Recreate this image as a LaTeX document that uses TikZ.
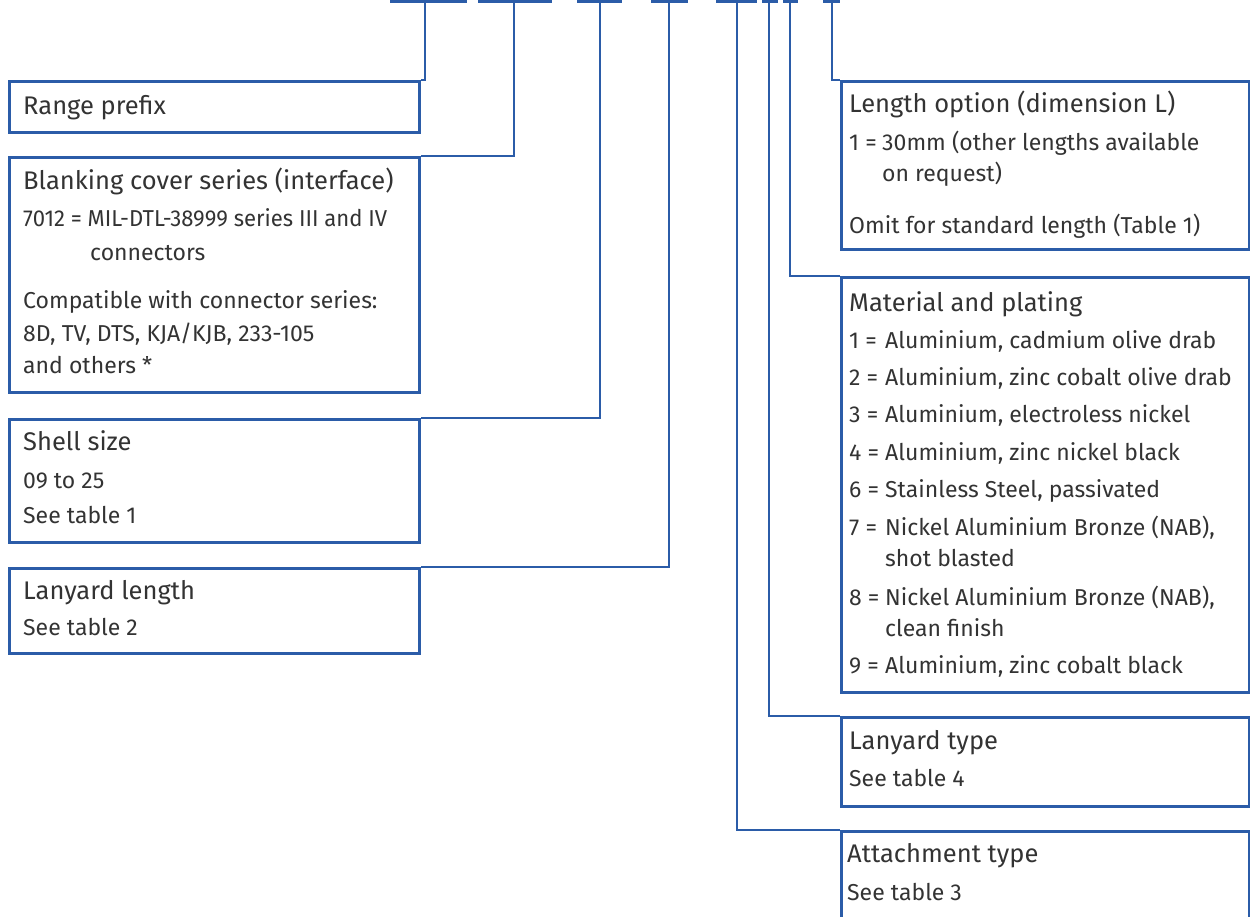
\documentclass[tikz,border=0pt]{standalone}
\usepackage{fontspec}
\setmainfont{Fira Sans}
\definecolor{lineblue}{HTML}{2B5CA8}
\definecolor{txt}{HTML}{333333}
\newcommand\hnum[2]{\makebox[#1][l]{#2 =}}
\tikzset{
  box/.style={draw=lineblue, line width=2.6pt, inner sep=0pt, anchor=north west},
  conn/.style={draw=lineblue, line width=2.4pt},
  ttl/.style={anchor=base west, inner sep=0pt, text=txt, font=\fontsize{25.5}{28}\selectfont},
  bdy/.style={anchor=base west, inner sep=0pt, text=txt, font=\fontsize{23}{26}\selectfont},
}
\begin{document}
\begin{tikzpicture}[x=1pt,y=-1pt]
\useasboundingbox (0,0) rectangle (1250,916);
\clip (0,0) rectangle (1250,916);
% top bars
\foreach \n/\a/\b in {1/390/467,2/478/552,3/577/622,4/651/688,5/716/757,6/762/778,7/783/798,8/823/840}{
  \coordinate (bl\n) at (\a,1.5);
  \coordinate (br\n) at (\b,1.5);
  \draw[conn] (bl\n) -- (br\n);
}
\coordinate (t1) at (425,1.5);
\coordinate (t2) at (514,1.5);
\coordinate (t3) at (600,1.5);
\coordinate (t4) at (669,1.5);
\coordinate (t5) at (737,1.5);
\coordinate (t6) at (769,1.5);
\coordinate (t7) at (790,1.5);
\coordinate (t8) at (832,1.5);
% boxes left
\node[box, minimum width=410pt, minimum height=51pt] (rp) at (8,80) {};
\node[box, minimum width=410pt, minimum height=235pt] (bc) at (8,156) {};
\node[box, minimum width=410pt, minimum height=123pt] (ss) at (8,418) {};
\node[box, minimum width=410pt, minimum height=85pt] (ll) at (8,567) {};
% boxes right
\node[box, minimum width=408pt, minimum height=168pt] (lo) at (840,80) {};
\node[box, minimum width=408pt, minimum height=415pt] (mp) at (840,276) {};
\node[box, minimum width=408pt, minimum height=89pt] (lt) at (840,716) {};
\node[box, minimum width=408pt, minimum height=110pt] (at) at (840,830) {};
% connectors
\draw[conn] (t1) |- (rp.north east);
\draw[conn] (t2) |- (bc.north east);
\draw[conn] (t3) |- (ss.north east);
\draw[conn] (t4) |- (ll.north east);
\draw[conn] (t5) |- (at.north west);
\draw[conn] (t6) |- (lt.north west);
\draw[conn] (t7) |- (mp.north west);
\draw[conn] (t8) |- (lo.north west);
% texts left
\node[ttl] (rpt) at (23,114) {Range prefix};
\node[ttl] (bct) at (23,189) {Blanking cover series (interface)};
\node[bdy] (bc1) at (23,226) {\scalebox{0.96}[1]{7012 = MIL-DTL-38999 series III and IV}};
\node[bdy] (bc2) at (90,260) {connectors};
\node[bdy] (bc3) at (23,308) {Compatible with connector series:};
\node[bdy] (bc4) at (23,341) {8D, TV, DTS, KJA/KJB, 233-105};
\node[bdy] (bc5) at (23,373) {and others *};
\node[ttl] (sst) at (23,450) {Shell size};
\node[bdy] (ss1) at (23,488) {09 to 25};
\node[bdy] (ss2) at (23,523) {See table 1};
\node[ttl] (llt) at (23,599) {Lanyard length};
\node[bdy] (ll1) at (23,635) {See table 2};
% texts right
\node[ttl] (lot) at (849,112) {Length option (dimension L)};
\node[bdy] (lo1) at (849,150) {\hnum{33pt}{1}30mm (other lengths available};
\node[bdy] (lo2) at (882,181) {on request)};
\node[bdy] (lo3) at (849,233) {Omit for standard length (Table 1)};
\node[ttl] (mpt) at (849,311) {Material and plating};
\node[bdy] (mp1) at (849,348) {\hnum{36pt}{1}Aluminium, cadmium olive drab};
\node[bdy] (mp2) at (849,385) {\hnum{36pt}{2}Aluminium, zinc cobalt olive drab};
\node[bdy] (mp3) at (849,422) {\hnum{36pt}{3}Aluminium, electroless nickel};
\node[bdy] (mp4) at (849,460) {\hnum{36pt}{4}Aluminium, zinc nickel black};
\node[bdy] (mp6) at (849,497) {\hnum{36pt}{6}Stainless Steel, passivated};
\node[bdy] (mp7) at (849,535) {\hnum{36pt}{7}Nickel Aluminium Bronze (NAB),};
\node[bdy] (mp7b) at (885,566) {shot blasted};
\node[bdy] (mp8) at (849,605) {\hnum{36pt}{8}Nickel Aluminium Bronze (NAB),};
\node[bdy] (mp8b) at (885,636) {clean finish};
\node[bdy] (mp9) at (849,673) {\hnum{36pt}{9}Aluminium, zinc cobalt black};
\node[ttl] (ltt) at (849,749) {Lanyard type};
\node[bdy] (lt1) at (849,786) {See table 4};
\node[ttl] (att) at (847,862) {Attachment type};
\node[bdy] (at1) at (847,900) {See table 3};
\end{tikzpicture}
\end{document}
